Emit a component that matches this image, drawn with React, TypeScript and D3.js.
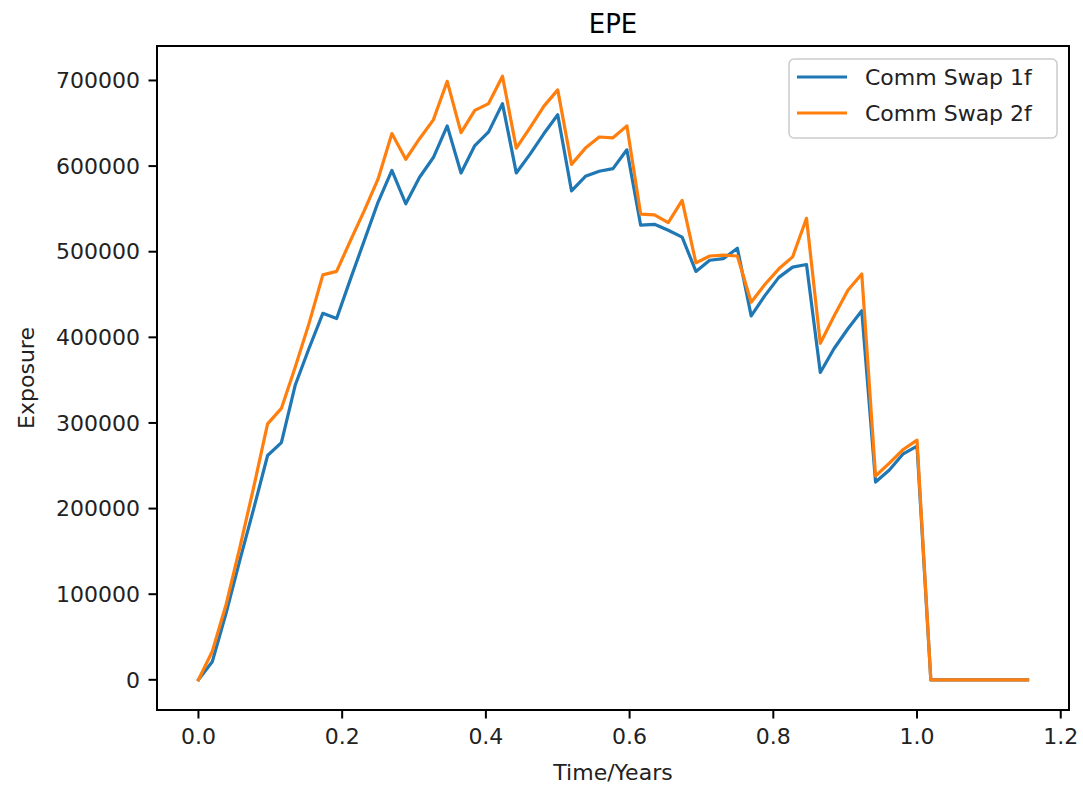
import React from "react";
import * as d3 from "d3";

const times = [
  0, 0.0192, 0.0385, 0.0577, 0.0769, 0.0962, 0.1154, 0.1346, 0.1538, 0.1731,
  0.1923, 0.2115, 0.2308, 0.25, 0.2692, 0.2885, 0.3077, 0.3269, 0.3462, 0.3654,
  0.3846, 0.4038, 0.4231, 0.4423, 0.4615, 0.4808, 0.5, 0.5192, 0.5385, 0.5577,
  0.5769, 0.5962, 0.6154, 0.6346, 0.6538, 0.6731, 0.6923, 0.7115, 0.7308, 0.75,
  0.7692, 0.7885, 0.8077, 0.8269, 0.8462, 0.8654, 0.8846, 0.9038, 0.9231, 0.9423,
  0.9615, 0.9808, 1.0, 1.0192, 1.0385, 1.0577, 1.0769, 1.0962, 1.1154, 1.1346, 1.1538,
];

const swap1f = [
  0, 21000, 78000, 140000, 200000, 262000, 277000, 344000, 387000, 428000,
  422000, 468000, 513000, 558000, 595000, 556000, 587000, 610000, 647000, 592000,
  624000, 640000, 673000, 592000, 614000, 638000, 660000, 571000, 588000, 594000,
  597000, 619000, 531000, 532000, 525000, 517000, 477000, 490000, 492000, 504000,
  425000, 449000, 470000, 482000, 485000, 359000, 387000, 410000, 431000, 231000,
  245000, 264000, 273000, 0, 0, 0, 0, 0, 0, 0, 0,
];

const swap2f = [
  0, 33000, 88000, 155000, 225000, 299000, 317000, 365000, 416000, 473000,
  477000, 513000, 548000, 585000, 638000, 608000, 632000, 654000, 699000, 639000,
  665000, 673000, 705000, 621000, 645000, 670000, 689000, 602000, 621000, 634000,
  633000, 647000, 544000, 543000, 534000, 560000, 487000, 495000, 496000, 495000,
  441000, 462000, 480000, 494000, 539000, 393000, 425000, 455000, 474000, 238000,
  253000, 269000, 280000, 0, 0, 0, 0, 0, 0, 0, 0,
];

const seriesNames = ["Comm Swap 1f", "Comm Swap 2f"];
const seriesColors = ["#1f77b4", "#ff7f0e"];
const xTicks = [0, 0.2, 0.4, 0.6, 0.8, 1.0, 1.2];
const yTicks = [0, 100000, 200000, 300000, 400000, 500000, 600000, 700000];

const W = 1083;
const H = 787;
const left = 157;
const right = 1069;
const top = 46;
const bottom = 710;
const FONT = "'DejaVu Sans', sans-serif";

export default function App() {
  const xMin = d3.min(times)!;
  const xMax = d3.max(times)!;
  const xPad = (xMax - xMin) * 0.05;
  const x = d3.scaleLinear().domain([xMin - xPad, xMax + xPad]).range([left, right]);
  const allY = [...swap1f, ...swap2f];
  const yMin = d3.min(allY)!;
  const yMax = d3.max(allY)!;
  const yPad = (yMax - yMin) * 0.05;
  const y = d3.scaleLinear().domain([yMin - yPad, yMax + yPad]).range([bottom, top]);

  const line = d3
    .line<number>()
    .x((_, i) => x(times[i]))
    .y((d) => y(d));

  const series = [swap1f, swap2f];
  const tickLen = 8.5;
  const fs = 22;

  return (
    <svg width={W} height={H} style={{ display: "block", position: "absolute", left: 0, top: 0 }}>
      <rect x={0} y={0} width={W} height={H} fill="#fff" />
      {series.map((s, i) => (
        <path
          key={i}
          d={line(s) || ""}
          fill="none"
          stroke={seriesColors[i]}
          strokeWidth={3.2}
          strokeLinejoin="round"
          strokeLinecap="square"
        />
      ))}
      <rect x={left} y={top} width={right - left} height={bottom - top} fill="none" stroke="#000" strokeWidth={2} />
      {xTicks.map((t) => (
        <g key={t}>
          <line x1={x(t)} x2={x(t)} y1={bottom} y2={bottom + tickLen} stroke="#000" strokeWidth={2} />
          <text x={x(t)} y={bottom + tickLen + 8 + 17} textAnchor="middle" fontFamily={FONT} fontSize={fs} fill="#222">
            {t.toFixed(1)}
          </text>
        </g>
      ))}
      {yTicks.map((t) => (
        <g key={t}>
          <line x1={left} x2={left - tickLen} y1={y(t)} y2={y(t)} stroke="#000" strokeWidth={2} />
          <text
            x={left - tickLen - 8.5}
            y={y(t)}
            dy="0.35em"
            textAnchor="end"
            fontFamily={FONT}
            fontSize={fs}
            fill="#222"
          >
            {String(t)}
          </text>
        </g>
      ))}
      <text x={(left + right) / 2} y={33} textAnchor="middle" fontFamily={FONT} fontSize={26} fill="#000">
        EPE
      </text>
      <text x={(left + right) / 2} y={780} textAnchor="middle" fontFamily={FONT} fontSize={fs} fill="#222">
        Time/Years
      </text>
      <text
        transform={`translate(34, ${(top + bottom) / 2}) rotate(-90)`}
        textAnchor="middle"
        fontFamily={FONT}
        fontSize={fs}
        fill="#222"
      >
        Exposure
      </text>
      <g>
        <rect x={789} y={59} width={268} height={79} rx={5} fill="#fff" fillOpacity={0.8} stroke="#ccc" strokeWidth={1.5} />
        {seriesNames.map((n, i) => (
          <g key={n}>
            <line x1={797} x2={847} y1={77 + i * 36} y2={77 + i * 36} stroke={seriesColors[i]} strokeWidth={3.2} />
            <text x={865} y={77 + i * 36} dy="0.35em" fontFamily={FONT} fontSize={fs} fill="#222">
              {n}
            </text>
          </g>
        ))}
      </g>
    </svg>
  );
}
